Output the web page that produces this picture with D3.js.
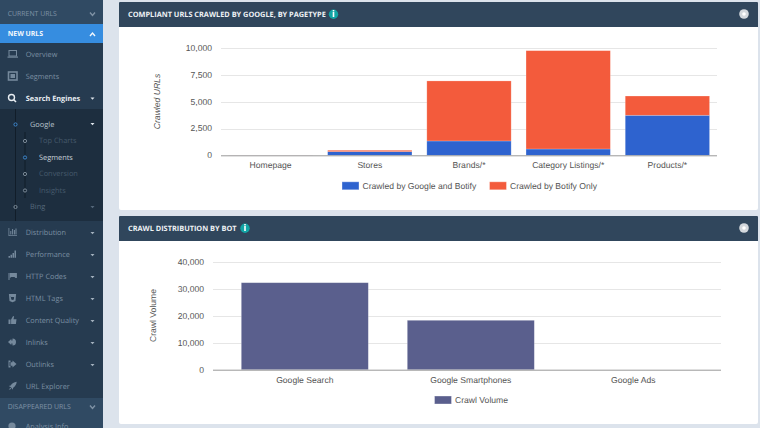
<!DOCTYPE html>
<html>
<head>
<meta charset="utf-8">
<script src="https://cdnjs.cloudflare.com/ajax/libs/d3/7.8.5/d3.min.js"></script>
<style>
html, body { margin: 0; padding: 0; background: #dce3ec; overflow: hidden; }
svg { display: block; text-rendering: geometricPrecision; }
.side { font-family: "Open Sans", sans-serif; }
.head { font-family: "Open Sans", sans-serif; font-weight: 700; font-size: 7.35px; fill: #eef2f5; }
.chart text { font-family: "Liberation Sans", Arial, sans-serif; font-size: 8.6px; fill: #555; }
.grid line { stroke: #e6e6e6; }
.axis-base { stroke: #999; }
</style>
</head>
<body>
<svg id="page" width="760" height="428"></svg>
<script>
// chart 1
var pagetypes = ["Homepage", "Stores", "Brands/*", "Category Listings/*", "Products/*"];
var crawledBoth = [5, 340, 1340, 590, 3740];
var crawledBotifyOnly = [5, 130, 5610, 9190, 1800];
var urlTicks = [0, 2500, 5000, 7500, 10000];

// chart 2
var bots = ["Google Search", "Google Smartphones", "Google Ads"];
var crawlVolume = [32400, 18400, 0];
var volumeTicks = [0, 10000, 20000, 30000, 40000];

// sidebar
var mainItems = ["Overview", "Segments", "Search Engines"];
var subItems = ["Top Charts", "Segments", "Conversion", "Insights"];
var lowerItems = ["Distribution", "Performance", "HTTP Codes", "HTML Tags", "Content Quality", "Inlinks", "Outlinks", "URL Explorer"];
var lowerIcons = [
  "M-4,-4V4H4.5V3.2H-3.2V-4zM-2.2,-1h1v3.6h-1zM-.4,-3h1v5.6h-1zM1.4,-2h1v4.6h-1zM3,-3.6h1v6.2h-1z",
  "M-4,2h1.5v1.8H-4zM-2,.8h1.5v3H-2zM0,-1h1.5v4.8H0zM2,-3.4h1.5v7.2H2z",
  "M-4,-3h1v7h-1zM-2.6,-3h7v5h-1.4l-1,-1h-3.2l-1.4,1z",
  "M-3.6,-4H3.6L3,3L0,4.2L-3,3zM-2,-2.4V-1H1.6L1.4,1.4L0,2L-1.2,1.5",
  "M-4,-.6h2V4h-2zM-1.4,-.6L.6,-4L1.6,-3.4L1,-.8H4L3.4,4H-1.4z",
  "M0,-3.5A3.5,3.5,0,1,1,0,3.5V1.6H-1.2V3L-4.5,0L-1.2,-3V-1.6H0z",
  "M-4,-3.5V3.5H-2V2H-3V-2H-2V-3.5zM0,-1.8V-3.4L4,0L0,3.4V1.8H-2V-1.8z",
  "M4.2,-4.2C1.5,-4,-.6,-2.4,-1.8,-.6L-3.8,0L-2,1L-.9,2.1L.1,3.8L.7,1.8C2.5,.6,4,-1.5,4.2,-4.2zM-2.2,1.8L-3.8,3.8L-1.2,2.9z"
];

var svg = d3.select("#page");
var fmt = d3.format(",");

// ---- sidebar ----
var side = svg.append("g").attr("class", "side");
side.append("rect").attr("width", 103).attr("height", 428).attr("fill", "#263b50");
side.append("rect").attr("width", 103).attr("height", 24).attr("fill", "#304a63");
side.append("rect").attr("y", 24).attr("width", 103).attr("height", 19).attr("fill", "#368de0");
side.append("rect").attr("y", 109).attr("width", 103).attr("height", 112).attr("fill", "#1d2e3f");
side.append("rect").attr("y", 398).attr("width", 103).attr("height", 30).attr("fill", "#304a63");
side.append("line").attr("x1", 15.5).attr("x2", 15.5).attr("y1", 109).attr("y2", 221).attr("stroke", "#111d29");
side.append("line").attr("x1", 25).attr("x2", 25).attr("y1", 132).attr("y2", 198).attr("stroke", "#111d29");

function sideText(x, y, s, size, color, weight) {
  side.append("text").attr("x", x).attr("y", y).attr("dy", "0.35em").text(s)
    .attr("font-size", size).attr("fill", color).attr("font-weight", weight || 400);
}
function chevron(y, up, color) {
  var d = up ? "M90,"+(y+2)+"L92.5,"+(y-1)+"L95,"+(y+2) : "M90,"+(y-1.5)+"L92.5,"+(y+1.5)+"L95,"+(y-1.5);
  side.append("path").attr("d", d).attr("fill", "none").attr("stroke", color).attr("stroke-width", 1.4);
}
function caret(y, color) {
  side.append("path").attr("d", "M90.5,"+(y-1)+"h4l-2,2.2z").attr("fill", color);
}
function dot(x, y, color) {
  side.append("circle").attr("cx", x).attr("cy", y).attr("r", 1.6)
    .attr("fill", "none").attr("stroke", color).attr("stroke-width", 1);
}

sideText(7.7, 14, "CURRENT URLS", 6.9, "#7f92a5");
chevron(14, false, "#7f92a5");
sideText(7.7, 33.5, "NEW URLS", 6.9, "#f2f7fc", 700);
chevron(34, true, "#f2f7fc");

var mainY = [54, 76, 98];
mainItems.forEach(function(s, i) {
  var on = i === 2;
  sideText(25.7, mainY[i], s, 7.3, on ? "#e8edf2" : "#7b8fa2", on ? 700 : 400);
});
caret(98.5, "#dfe6ec");
// overview, segments and search icons
side.append("rect").attr("x", 9).attr("y", 50.5).attr("width", 7.5).attr("height", 5.5).attr("fill", "none").attr("stroke", "#75899c");
side.append("rect").attr("x", 7.5).attr("y", 56.5).attr("width", 10.5).attr("height", 1.2).attr("fill", "#75899c");
side.append("rect").attr("x", 8.5).attr("y", 72).attr("width", 8.5).attr("height", 8).attr("fill", "none").attr("stroke", "#75899c").attr("stroke-width", 1.6);
side.append("rect").attr("x", 10.5).attr("y", 74).attr("width", 4.5).attr("height", 4).attr("fill", "#75899c");
side.append("circle").attr("cx", 11.5).attr("cy", 97.5).attr("r", 3).attr("fill", "none").attr("stroke", "#e8edf2").attr("stroke-width", 1.4);
side.append("line").attr("x1", 13.8).attr("y1", 99.8).attr("x2", 16).attr("y2", 102).attr("stroke", "#e8edf2").attr("stroke-width", 1.6);

dot(15.5, 124.5, "#3d86cc");
sideText(30, 124, "Google", 7.4, "#b7c2cc");
caret(124, "#dfe6ec");

var subY = [140.5, 157, 173.5, 190];
subItems.forEach(function(s, i) {
  var on = i === 1;
  dot(25, subY[i] + 0.5, on ? "#3d86cc" : "#7b8a98");
  sideText(39, subY[i], s, 7.4, on ? "#c6d0d9" : "#465a6c");
});
dot(15.5, 207, "#7b8a98");
sideText(30, 206.5, "Bing", 7.4, "#55687a");
caret(207, "#55687a");

var lowerY = [232, 254, 276, 298, 320, 342, 364, 386];
lowerItems.forEach(function(s, i) {
  sideText(25.7, lowerY[i], s, 7.3, "#7b8fa2");
  if (i < 7) caret(lowerY[i] + 1, "#a3b1be");
  side.append("path").attr("transform", "translate(12.5," + lowerY[i] + ")")
    .attr("d", lowerIcons[i]).attr("fill", "#75899c").attr("fill-rule", "evenodd");
});
sideText(7.7, 407, "DISAPPEARED URLS", 6.9, "#7f92a5");
chevron(407, false, "#7f92a5");
side.append("circle").attr("cx", 12).attr("cy", 426).attr("r", 3.6).attr("fill", "#75899c");
sideText(25.7, 426, "Analysis Info", 7.3, "#7b8fa2");

// ---- panels ----
function panel(top, bottom, title, infoX) {
  var g = svg.append("g");
  g.append("rect").attr("x", 119).attr("y", top).attr("width", 639).attr("height", bottom - top).attr("rx", 2).attr("fill", "#fff");
  g.append("path").attr("d", "M119," + (top + 25) + "V" + (top + 1) + "q0,-1 1,-1H757q1,0 1,1V" + (top + 25) + "z").attr("fill", "#30465c");
  g.append("text").attr("class", "head").attr("x", 128).attr("y", top + 12.2).attr("dy", "0.35em").text(title);
  g.append("circle").attr("cx", infoX).attr("cy", top + 12.3).attr("r", 4.7).attr("fill", "#12a5a5");
  g.append("rect").attr("x", infoX - 0.8).attr("y", top + 10).attr("width", 1.6).attr("height", 5).attr("fill", "#fff");
  g.append("rect").attr("x", infoX - 0.8).attr("y", top + 8).attr("width", 1.6).attr("height", 1.4).attr("fill", "#fff");
  g.append("circle").attr("cx", 744).attr("cy", top + 12).attr("r", 4.8).attr("fill", "#d3d8dd");
  g.append("circle").attr("cx", 744).attr("cy", top + 12).attr("r", 1.8).attr("fill", "#fff");
}
panel(2, 210, "COMPLIANT URLS CRAWLED BY GOOGLE, BY PAGETYPE", 333.5);
panel(216, 424, "CRAWL DISTRIBUTION BY BOT", 245);

// shared axis drawing for the two charts
function drawFrame(g, gridRange, y, ticks) {
  g.append("g").attr("class", "grid").selectAll("line")
    .data(ticks.filter(function(t) { return t > 0; })).join("line")
    .attr("x1", gridRange[0]).attr("x2", gridRange[1])
    .attr("y1", function(d) { return Math.round(y(d)) + 0.5; })
    .attr("y2", function(d) { return Math.round(y(d)) + 0.5; });
  var yAxis = d3.axisLeft(y).tickValues(ticks).tickFormat(fmt).tickSize(0).tickPadding(9);
  var ya = g.append("g").attr("transform", "translate(" + gridRange[0] + ",0)").call(yAxis);
  ya.select(".domain").remove();
  ya.selectAll("text").attr("dy", "0.27em");
}
function drawBase(g, gridRange, x, y) {
  g.append("line").attr("class", "axis-base").attr("x1", gridRange[0]).attr("x2", gridRange[1])
    .attr("y1", y(0) + 0.5).attr("y2", y(0) + 0.5);
  var xAxis = d3.axisBottom(x).tickSize(0).tickPadding(7);
  var xa = g.append("g").attr("transform", "translate(0," + y(0) + ")").call(xAxis);
  xa.select(".domain").remove();
  return xa;
}
function legendEntry(g, x, y, color, label) {
  g.append("rect").attr("x", x).attr("y", y - 4).attr("width", 17).attr("height", 8)
    .attr("fill", color).attr("stroke", "#fff").attr("stroke-opacity", 0.35);
  g.append("text").attr("x", x + 20.5).attr("y", y).attr("dy", "0.35em").text(label);
}

// ---- chart 1 : stacked bars ----
var c1 = svg.append("g").attr("class", "chart");
var grid1 = [221, 717];
var x1 = d3.scaleBand().domain(pagetypes).range(grid1).paddingInner(0.15).paddingOuter(0.075);
var y1 = d3.scaleLinear().domain([0, 10000]).range([155.3, 48.3]);
drawFrame(c1, grid1, y1, urlTicks);

var stackRows = pagetypes.map(function(p, i) {
  return { type: p, both: crawledBoth[i], botify: crawledBotifyOnly[i] };
});
var stacked = d3.stack().keys(["both", "botify"])(stackRows);
var colors1 = { both: "#2e63cf", botify: "#f35b3c" };
c1.selectAll("g.layer").data(stacked).join("g").attr("class", "layer")
  .attr("fill", function(d) { return colors1[d.key]; })
  .selectAll("rect").data(function(d) { return d; }).join("rect")
  .attr("x", function(d) { return x1(d.data.type); })
  .attr("width", x1.bandwidth())
  .attr("y", function(d) { return y1(d[1]); })
  .attr("height", function(d) { return y1(d[0]) - y1(d[1]); })
  .attr("stroke", "#fff").attr("stroke-opacity", 0.3).attr("stroke-width", 0.7);
drawBase(c1, grid1, x1, y1);
c1.append("text").attr("transform", "translate(157.3,101.5) rotate(-90)").attr("text-anchor", "middle")
  .attr("dy", "0.35em").attr("font-style", "italic").text("Crawled URLs");
legendEntry(c1, 342, 185.8, colors1.both, "Crawled by Google and Botify");
legendEntry(c1, 489.5, 185.8, colors1.botify, "Crawled by Botify Only");

// ---- chart 2 : single series ----
var c2 = svg.append("g").attr("class", "chart");
var grid2 = [213, 721];
var x2 = d3.scaleBand().domain(bots).range([221.8, 719.8]).paddingInner(39 / 166).paddingOuter(19.5 / 166);
var y2 = d3.scaleLinear().domain([0, 40000]).range([369.7, 262.3]);
drawFrame(c2, grid2, y2, volumeTicks);
c2.append("g").selectAll("rect").data(crawlVolume).join("rect")
  .attr("x", function(d, i) { return x2(bots[i]); })
  .attr("width", x2.bandwidth())
  .attr("y", function(d) { return y2(d); })
  .attr("height", function(d) { return y2(0) - y2(d); })
  .attr("fill", "#5a5f8d").attr("stroke", "#fff").attr("stroke-opacity", 0.3).attr("stroke-width", 0.7);
var xa2 = drawBase(c2, grid2, x2, y2);
xa2.selectAll("text").attr("dx", function(d) { return d === "Google Ads" ? -3.5 : 0; }); // label sits a bit left in the original
c2.append("text").attr("transform", "translate(152.7,315.5) rotate(-90)").attr("text-anchor", "middle")
  .attr("dy", "0.35em").text("Crawl Volume");
legendEntry(c2, 434.5, 400, "#5a5f8d", "Crawl Volume");
</script>
</body>
</html>
